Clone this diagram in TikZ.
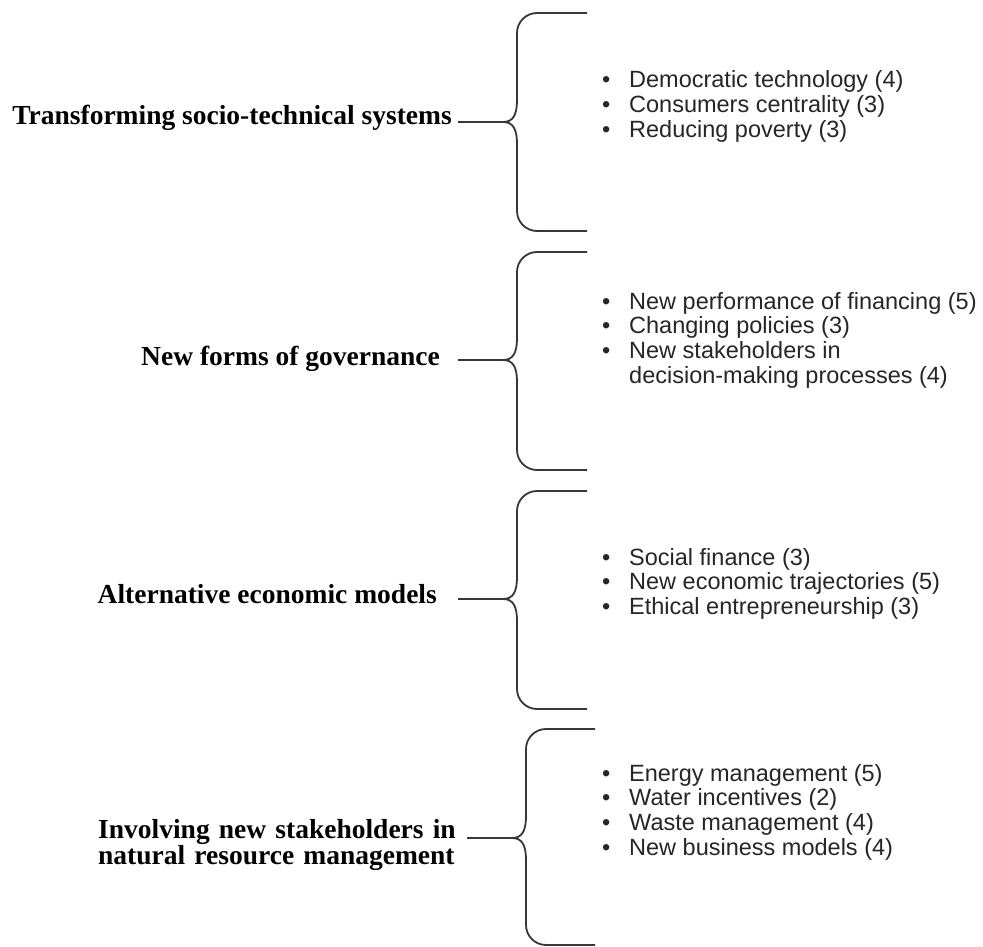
\documentclass[tikz,border=0pt]{standalone}
\usepackage{fontspec}
\newfontfamily\headfont{Liberation Serif}
\newfontfamily\listfont{Liberation Sans}
\definecolor{linegray}{RGB}{55,55,55}
\definecolor{listgray}{RGB}{38,38,38}

% a curly brace opening to the right: tip name, x of the stem, top, tip y, bottom, x of the arm ends
\newcommand\curlybrace[6]{%
  \coordinate (#1) at ({#2-14},#4);
  \draw[bracel]
    (#6,#3) -- ({#2+20},#3)
    .. controls ({#2+9},#3) and (#2,{#3+9}) .. (#2,{#3+20})
    -- (#2,{#4-22})
    .. controls (#2,{#4-7}) and ({#2-4},#4) .. (#1)
    .. controls ({#2-4},#4) and (#2,{#4+7}) .. (#2,{#4+22})
    -- (#2,{#5-20})
    .. controls (#2,{#5-9}) and ({#2+9},#5) .. ({#2+20},#5)
    -- (#6,#5);
}

\begin{document}
\begin{tikzpicture}[x=1pt,y=-1pt,
  bracel/.style={draw=linegray,line width=1.8pt},
  link/.style={draw=linegray,line width=1.8pt},
  heading/.style={font=\headfont\bfseries\fontsize{27.5}{24}\selectfont,inner sep=0pt,text=black},
  entry/.style={font=\listfont\fontsize{23.5}{24.7}\selectfont,inner sep=0pt,anchor=base west,text=listgray}]
\fill[white] (0,0) rectangle (983,947);
\useasboundingbox (0,0) rectangle (983,947);

% the four brackets
\curlybrace{tip1}{517}{13}{122}{231}{587}
\curlybrace{tip2}{517}{252}{360}{470}{587}
\curlybrace{tip3}{517}{491}{599}{709}{587}
\curlybrace{tip4}{526}{729}{838}{945}{595}

% themes on the left
\node[heading,anchor=base east] (t1) at (452,125) {Transforming socio-technical systems};
\node[heading,anchor=base east] (t2) at (440,365) {New forms of governance};
\node[heading,anchor=base east] (t3) at (437,603) {Alternative economic models};
\node[heading,anchor=base west,text width=380pt,align=left] (t4) at (98,838)
  {Involving new stakeholders in\\natural resource management};

\coordinate (c1) at (458,122);
\coordinate (c2) at (458,360);
\coordinate (c3) at (458,599);
\coordinate (c4) at (467,838);
\draw[link] (c1) -- (tip1);
\draw[link] (c2) -- (tip2);
\draw[link] (c3) -- (tip3);
\draw[link] (c4) -- (tip4);

% sub-themes on the right
\newcommand\bul{\makebox[27pt][l]{•}}
\node[entry] (a1) at (602,88)    {\bul Democratic technology (4)};
\node[entry] (a2) at (602,112.7) {\bul Consumers centrality (3)};
\node[entry] (a3) at (602,137.4) {\bul Reducing poverty (3)};

\node[entry] (b1) at (602,309)   {\bul New performance of financing (5)};
\node[entry] (b2) at (602,333.7) {\bul Changing policies (3)};
\node[entry] (b3) at (602,358.4) {\bul New stakeholders in};
\node[entry] (b4) at (629,383.1) {decision-making processes (4)};

\node[entry] (d1) at (602,565)   {\bul Social finance (3)};
\node[entry] (d2) at (602,589.7) {\bul New economic trajectories (5)};
\node[entry] (d3) at (602,614.4) {\bul Ethical entrepreneurship (3)};

\node[entry] (e1) at (602,781)   {\bul Energy management (5)};
\node[entry] (e2) at (602,805.7) {\bul Water incentives (2)};
\node[entry] (e3) at (602,830.4) {\bul Waste management (4)};
\node[entry] (e4) at (602,855.1) {\bul New business models (4)};
\end{tikzpicture}
\end{document}
